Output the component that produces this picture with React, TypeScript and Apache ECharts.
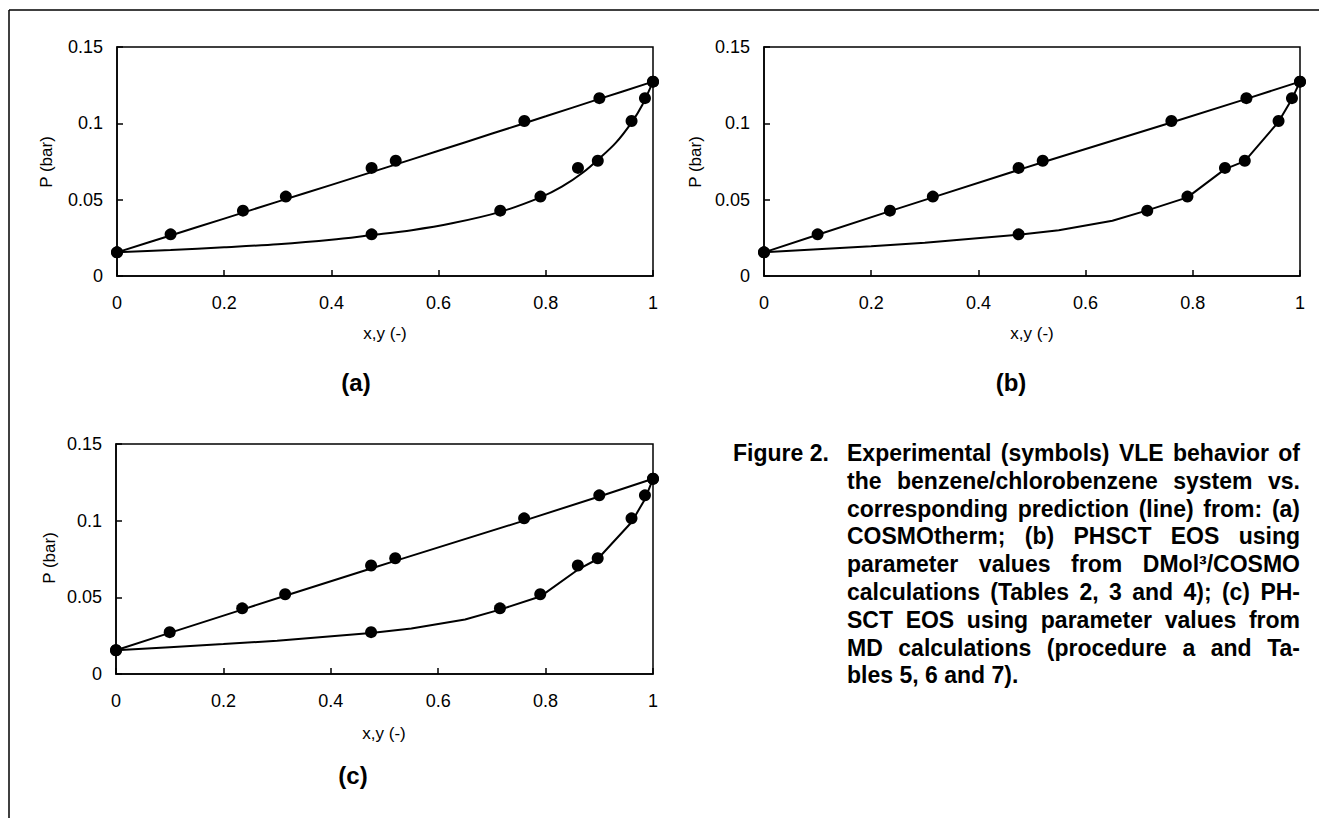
import React, { useEffect, useRef } from "react";
import * as echarts from "echarts";

// Experimental data (same in all panels)
const expP = [0.0155, 0.0273, 0.0428, 0.052, 0.0708, 0.0755, 0.1015, 0.1165, 0.1273];
const expLiquidX = [0, 0.1, 0.235, 0.315, 0.475, 0.52, 0.76, 0.9, 1.0];
const expVaporY = [0, 0.475, 0.715, 0.79, 0.86, 0.897, 0.96, 0.985, 1.0];

// Panel (a) prediction
const predA_bubbleX = [0, 0.1, 0.2, 0.3, 0.4, 0.5, 0.6, 0.7, 0.8, 0.9, 1.0];
const predA_bubbleP = [0.0155, 0.0265, 0.0376, 0.0487, 0.0597, 0.0708, 0.082, 0.0933, 0.1046, 0.116, 0.1273];
const predA_dewX = [0, 0.1, 0.2, 0.3, 0.4, 0.475, 0.55, 0.625, 0.715, 0.79, 0.83, 0.87, 0.9, 0.93, 0.96, 0.98, 1.0];
const predA_dewP = [0.0155, 0.017, 0.0188, 0.0208, 0.0237, 0.0268, 0.03, 0.0345, 0.042, 0.0515, 0.0585, 0.068, 0.077, 0.087, 0.1005, 0.112, 0.1273];

// Panel (b) prediction
const predB_bubbleX = [0, 0.1, 0.235, 0.315, 0.475, 0.52, 0.76, 0.9, 1.0];
const predB_bubbleP = [0.0155, 0.027, 0.0425, 0.0515, 0.0695, 0.0745, 0.1005, 0.116, 0.1273];
const predB_dewX = [0, 0.1, 0.2, 0.3, 0.475, 0.55, 0.65, 0.715, 0.79, 0.86, 0.897, 0.96, 0.985, 1.0];
const predB_dewP = [0.0155, 0.0175, 0.0195, 0.0218, 0.027, 0.03, 0.0362, 0.043, 0.0515, 0.07, 0.0752, 0.101, 0.116, 0.1273];

// Panel (c) prediction
const predC_bubbleX = [0, 0.1, 0.235, 0.315, 0.475, 0.52, 0.76, 0.9, 1.0];
const predC_bubbleP = [0.0155, 0.0268, 0.042, 0.051, 0.0688, 0.0738, 0.1, 0.1158, 0.1273];
const predC_dewX = [0, 0.1, 0.2, 0.3, 0.475, 0.55, 0.65, 0.715, 0.79, 0.86, 0.897, 0.96, 0.985, 1.0];
const predC_dewP = [0.0155, 0.0175, 0.0195, 0.0217, 0.0268, 0.0297, 0.0355, 0.042, 0.0505, 0.068, 0.075, 0.099, 0.114, 0.1273];

const panelLabels = ["(a)", "(b)", "(c)"];
const xTitle = "x,y (-)";
const yTitle = "P (bar)";

const captionHead = "Figure 2.";
const captionLines = [
  "Experimental (symbols) VLE behavior of",
  "the benzene/chlorobenzene system vs.",
  "corresponding prediction (line) from: (a)",
  "COSMOtherm; (b) PHSCT EOS using",
  "parameter values from DMol³/COSMO",
  "calculations (Tables 2, 3 and 4); (c) PH-",
  "SCT EOS using parameter values from",
  "MD calculations (procedure a and Ta-",
  "bles 5, 6 and 7).",
];

const FONT = "'Liberation Sans', Arial, Helvetica, sans-serif";

const zip = (xs: number[], ys: number[]) => xs.map((x, i) => [x, ys[i]]);

export default function App() {
  const ref = useRef<HTMLDivElement>(null);
  useEffect(() => {
    if (!ref.current) return;
    const chart = echarts.init(ref.current, undefined, { renderer: "svg" });

    const grids = [
      { left: 117, top: 47, width: 536, height: 229 },
      { left: 764, top: 47, width: 536, height: 229 },
      { left: 116, top: 444, width: 537, height: 230 },
    ];

    const preds = [
      [zip(predA_bubbleX, predA_bubbleP), zip(predA_dewX, predA_dewP), true],
      [zip(predB_bubbleX, predB_bubbleP), zip(predB_dewX, predB_dewP), false],
      [zip(predC_bubbleX, predC_bubbleP), zip(predC_dewX, predC_dewP), false],
    ] as any[];

    const xAxes = grids.map((_, i) => ({
      type: "value",
      gridIndex: i,
      min: 0,
      max: 1,
      interval: 0.2,
      axisLine: { show: true, lineStyle: { color: "#000", width: 1.5 } },
      axisTick: { show: true, inside: true, length: 6, lineStyle: { color: "#000", width: 1.5 } },
      splitLine: { show: false },
      axisLabel: { color: "#000", fontSize: 18, fontFamily: FONT, margin: 18, showMinLabel: true, showMaxLabel: true },
    }));
    const yAxes = grids.map((_, i) => ({
      type: "value",
      gridIndex: i,
      min: 0,
      max: 0.15,
      interval: 0.05,
      axisLine: { show: true, lineStyle: { color: "#000", width: 1.5 } },
      axisTick: { show: true, inside: true, length: 6, lineStyle: { color: "#000", width: 1.5 } },
      splitLine: { show: false },
      axisLabel: { color: "#000", fontSize: 18, fontFamily: FONT, margin: 14, showMinLabel: true, showMaxLabel: true },
    }));

    const series: any[] = [];
    grids.forEach((_, i) => {
      const [bub, dew, smooth] = preds[i];
      [bub, dew].forEach((d: number[][]) => {
        series.push({
          type: "line",
          xAxisIndex: i,
          yAxisIndex: i,
          data: d,
          showSymbol: false,
          smooth: smooth ? 0.3 : false,
          lineStyle: { color: "#000", width: 2 },
          z: 2,
        });
      });
      [zip(expLiquidX, expP), zip(expVaporY, expP)].forEach((d) => {
        series.push({
          type: "scatter",
          xAxisIndex: i,
          yAxisIndex: i,
          data: d,
          symbol: "circle",
          symbolSize: 12,
          itemStyle: { color: "#000", opacity: 1 },
          emphasis: { disabled: true },
          z: 3,
        });
      });
    });

    const txt = (text: string, x: number, y: number, size: number, bold = false, extra: any = {}) => ({
      type: "text",
      x,
      y,
      ...extra,
      style: {
        text,
        fill: "#000",
        fontSize: size,
        fontWeight: bold ? "bold" : "normal",
        fontFamily: FONT,
        align: extra.align || "center",
        verticalAlign: "middle",
        textAlign: extra.align || "center",
        textVerticalAlign: "middle",
      },
    });

    const graphics: any[] = [];
    // frame
    graphics.push({ type: "line", shape: { x1: 9, y1: 10, x2: 1319, y2: 10 }, style: { stroke: "#000", lineWidth: 1.5 } });
    graphics.push({ type: "line", shape: { x1: 9, y1: 10, x2: 9, y2: 818 }, style: { stroke: "#000", lineWidth: 1.5 } });

    // axis titles & panel labels
    const labelPos = [
      { xt: [385, 333], yt: [46, 162], pl: [356, 382] },
      { xt: [1032, 333], yt: [695, 162], pl: [1011, 382] },
      { xt: [384, 733], yt: [49, 558], pl: [353, 775] },
    ];
    labelPos.forEach((p, i) => {
      graphics.push(txt(xTitle, p.xt[0], p.xt[1], 17));
      graphics.push(txt(yTitle, p.yt[0], p.yt[1], 17, false, { rotation: Math.PI / 2 }));
      graphics.push(txt(panelLabels[i], p.pl[0], p.pl[1], 24, true));
    });

    // caption (justified)
    const capSize = 23;
    const capFont = `bold ${capSize}px ${FONT}`;
    const canvas = document.createElement("canvas");
    const ctx = canvas.getContext("2d")!;
    ctx.font = capFont;
    const bodyLeft = 847;
    const bodyRight = 1300;
    const lineTop = 453;
    const lineStep = 27.8;
    graphics.push(txt(captionHead, 733, lineTop, capSize, true, { align: "left" }));
    captionLines.forEach((line, li) => {
      const y = lineTop + li * lineStep;
      const words = line.split(" ");
      const isLast = li === captionLines.length - 1;
      if (isLast || words.length < 2) {
        graphics.push(txt(line, bodyLeft, y, capSize, true, { align: "left" }));
        return;
      }
      const widths = words.map((w) => ctx.measureText(w).width);
      const total = widths.reduce((a, b) => a + b, 0);
      const gap = Math.max(4, (bodyRight - bodyLeft - total) / (words.length - 1));
      let x = bodyLeft;
      words.forEach((w, wi) => {
        graphics.push(txt(w, x, y, capSize, true, { align: "left" }));
        x += widths[wi] + gap;
      });
    });

    chart.setOption({
      animation: false,
      backgroundColor: "#fff",
      grid: grids.map((g) => ({ ...g, show: true, borderColor: "#000", borderWidth: 1.5, backgroundColor: "transparent" })),
      xAxis: xAxes,
      yAxis: yAxes,
      series,
      graphic: graphics,
    });

    return () => chart.dispose();
  }, []);

  return (
    <div
      ref={ref}
      style={{ position: "absolute", left: 0, top: 0, width: 1319, height: 818, background: "#fff" }}
    />
  );
}
